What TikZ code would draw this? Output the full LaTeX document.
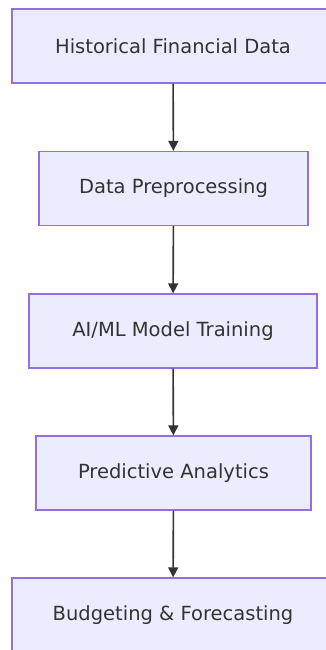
\documentclass[tikz,border=0pt]{standalone}
\usepackage{fontspec}
\setmainfont{DejaVu Sans}
\definecolor{boxfill}{HTML}{ECECFF}
\definecolor{boxline}{HTML}{9370DB}
\definecolor{arrowcol}{HTML}{333333}
\tikzset{
  box/.style={shape=rectangle, draw=boxline, fill=boxfill, line width=1.3pt, minimum height=74pt, text=arrowcol, font=\fontsize{19.5}{23}\selectfont},
  flow/.style={draw=arrowcol, line width=1.6pt, -{Triangle[length=10pt,width=10pt]}}
}
\usetikzlibrary{arrows.meta}
\begin{document}
\begin{tikzpicture}[x=1pt, y=1pt]
			      \useasboundingbox (0, 0) rectangle (325, -650);
			      \node[box, minimum width=322pt] (hist) at (173, -46){Historical Financial Data};
			      \node[box, minimum width=269pt] (prep) at (173.5, -188.5){Data Preprocessing};
			      \node[box, minimum width=288pt] (train) at (173, -331){AI/ML Model Training};
			      \node[box, minimum width=275pt] (pred) at (173.5, -473){Predictive Analytics};
			      \node[box, minimum width=322pt] (budget) at (173, -615){Budgeting \& Forecasting};

			      \draw[flow] (hist) to (prep);
			      \draw[flow] (prep) to (train);
			      \draw[flow] (train) to (pred);
			      \draw[flow] (pred) to (budget);
		      \end{tikzpicture}
\end{document}
